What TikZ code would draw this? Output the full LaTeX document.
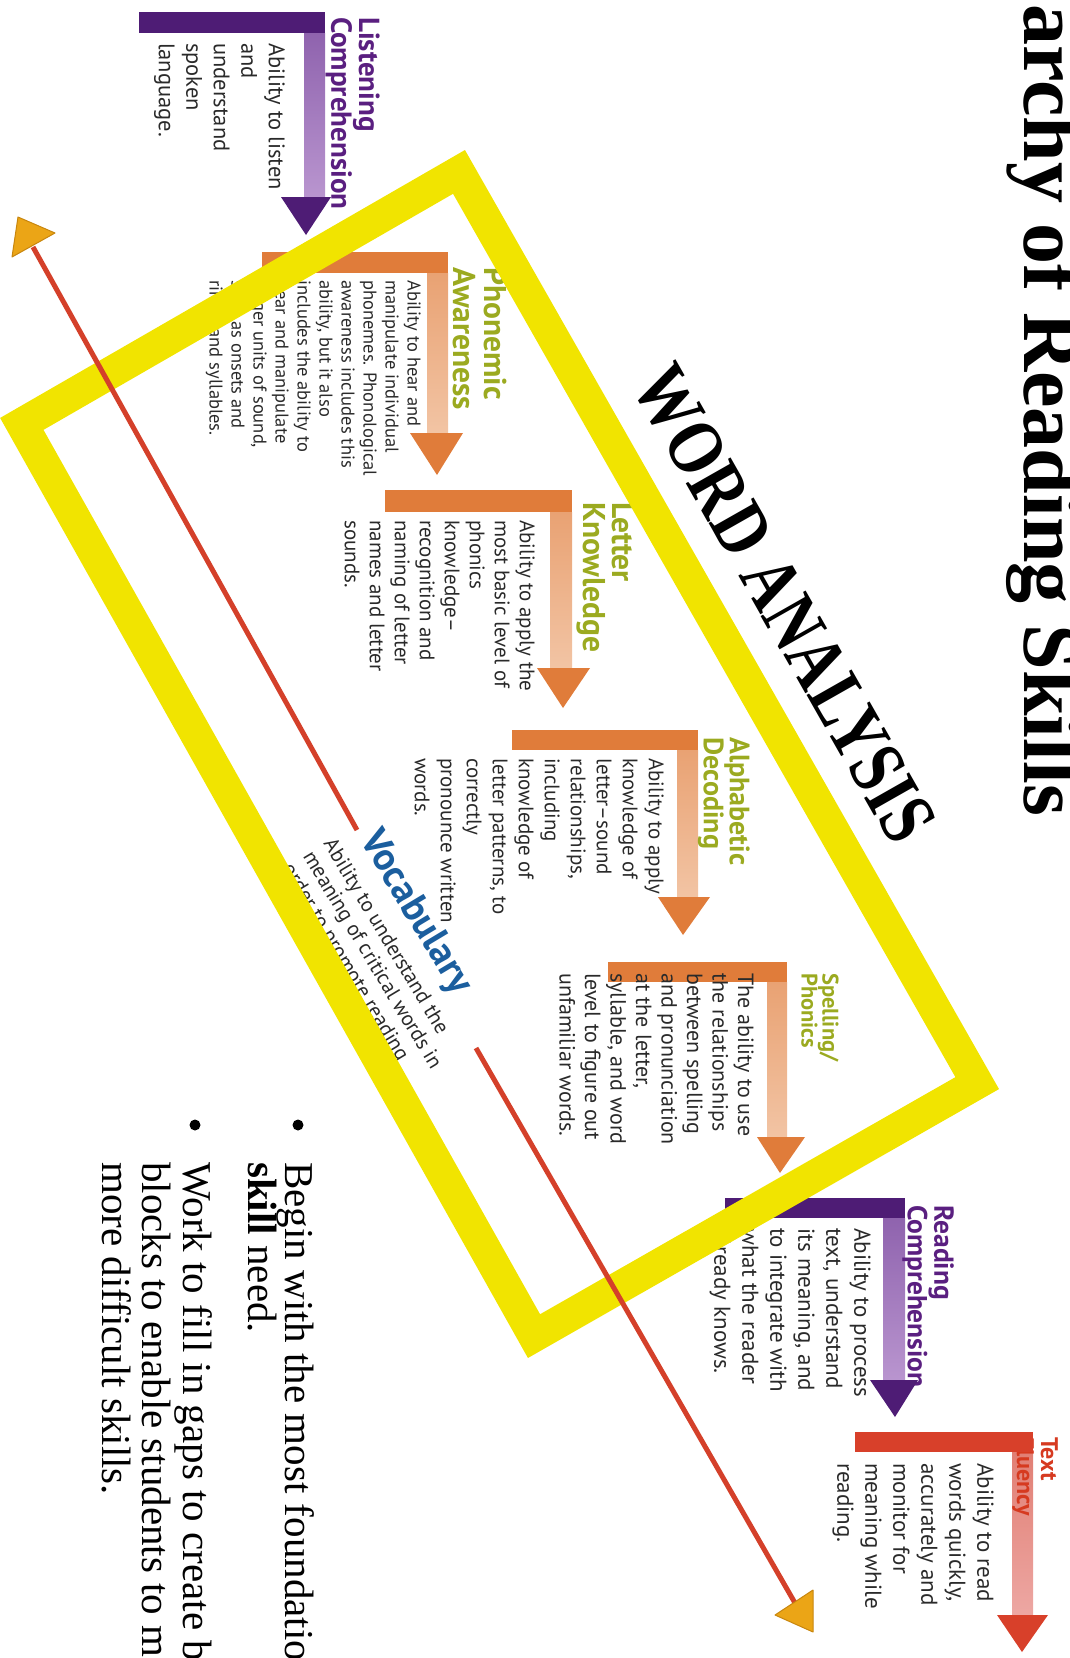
\documentclass[tikz,border=0pt]{standalone}
\usepackage{fontspec}
\setmainfont{PT Sans}
\newfontfamily\bodyf{PT Sans}
\newfontfamily\serf{Liberation Serif}
\newfontfamily\waf[FakeStretch=0.80]{Liberation Serif}
\newcommand\bfs[2]{\bodyf\fontsize{#1}{#2}\selectfont}
\newcommand\hfs[2]{\bodyf\bfseries\fontsize{#1}{#2}\selectfont}
\definecolor{purpD}{HTML}{4E1C75}
\definecolor{purpLt}{HTML}{8F63AE}
\definecolor{purpLb}{HTML}{B995CF}
\definecolor{orgD}{HTML}{E07C3A}
\definecolor{orgLt}{HTML}{E9A273}
\definecolor{orgLb}{HTML}{F2C4A4}
\definecolor{redD}{HTML}{D8402A}
\definecolor{redLt}{HTML}{E17F74}
\definecolor{redLb}{HTML}{EDA7A3}
\definecolor{hgreen}{HTML}{9BAA20}
\definecolor{hpurple}{HTML}{5A1F80}
\definecolor{hred}{HTML}{D63A20}
\definecolor{vocblue}{HTML}{1B5E9E}
\definecolor{bodygray}{HTML}{2A2A2A}
\definecolor{yband}{HTML}{F1E400}
\definecolor{redline}{HTML}{D4402A}
\definecolor{gold}{HTML}{EBA516}
\definecolor{golddark}{HTML}{C8860E}
\begin{document}
\begin{tikzpicture}[x=1pt,y=-1pt,
  body/.style={rotate=-90, anchor=north west, inner sep=0pt, align=left, text=bodygray},
  hdr/.style={rotate=-90, anchor=north west, inner sep=0pt, align=left},
  bul/.style={rotate=-90, anchor=base west, inner sep=0pt, text=black, font=\serf\fontsize{41}{41}\selectfont},
  redln/.style={draw=redline, line width=5pt},
  goldhead/.style={fill=gold, draw=golddark, line width=1pt, line join=round},
  band/.style={draw=yband, line width=32pt, line join=miter}]
\useasboundingbox (0,0) rectangle (1070,1658);
\clip (0,0) rectangle (1070,1658);

% ---------- Listening Comprehension ----------
\shade[top color=purpLt, bottom color=purpLb] (304,33) rectangle (325,197);
\node[hdr, text=hpurple, font=\hfs{29}{24}] (lchdr) at (380,17) {Listening\\Comprehension};
\fill[purpD] (139,12) rectangle (325,33);
\fill[purpD] (281,197) -- (331,197) -- (306,235) -- cycle;
\node[body, font=\bfs{22.5}{27.5}] (lcbody) at (285,43) {Ability to listen\\and\\understand\\spoken\\language.};

% ---------- Phonemic Awareness ----------
\shade[top color=orgLt, bottom color=orgLb] (427,273) rectangle (448,433);
\node[hdr, text=hgreen, font=\hfs{31.5}{31}] (pahdr) at (507,267) {Phonemic\\Awareness};
\fill[orgD] (262,252) rectangle (448,273);
\fill[orgD] (410,433) -- (463,433) -- (437,475) -- cycle;
\node[body, font=\bfs{18.5}{22}] (pabody) at (421,280) {Ability to hear and\\manipulate individual\\phonemes. Phonological\\awareness includes this\\ability, but it also\\includes the ability to\\hear and manipulate\\larger units of sound,\\such as onsets and\\rimes and syllables.};

% ---------- Letter Knowledge ----------
\shade[top color=orgLt, bottom color=orgLb] (550,512) rectangle (572,668);
\node[hdr, text=hgreen, font=\hfs{31.5}{29}] (lkhdr) at (635,502) {Letter\\Knowledge};
\fill[orgD] (385,490) rectangle (572,512);
\fill[orgD] (537,668) -- (590,668) -- (563,708) -- cycle;
\node[body, font=\bfs{21}{25}] (lkbody) at (535,520) {Ability to apply the\\most basic level of\\phonics\\knowledge–\\recognition and\\naming of letter\\names and letter\\sounds.};

% ---------- Alphabetic Decoding ----------
\shade[top color=orgLt, bottom color=orgLb] (677,750) rectangle (698,897);
\node[hdr, text=hgreen, font=\hfs{28}{26}] (adhdr) at (750,737) {Alphabetic\\Decoding};
\fill[orgD] (512,730) rectangle (698,750);
\fill[orgD] (658,897) -- (710,897) -- (683,935) -- cycle;
\node[body, font=\bfs{21}{26}] (adbody) at (664,758) {Ability to apply\\knowledge of\\letter–sound\\relationships,\\including\\knowledge of\\letter patterns, to\\correctly\\pronounce written\\words.};

% ---------- Spelling/Phonics ----------
\shade[top color=orgLt, bottom color=orgLb] (767,982) rectangle (787,1137);
\node[hdr, text=hgreen, font=\hfs{22.5}{21}] (sphdr) at (839,973) {Spelling/\\Phonics};
\fill[orgD] (608,962) rectangle (787,982);
\fill[orgD] (757,1137) -- (805,1137) -- (780,1173) -- cycle;
\node[body, font=\bfs{22}{25.5}] (spbody) at (754,973) {The ability to use\\the relationships\\between spelling\\and pronunciation\\at the letter,\\syllable, and word\\level to figure out\\unfamiliar words.};

% ---------- Reading Comprehension ----------
\shade[top color=purpLt, bottom color=purpLb] (883,1218) rectangle (905,1380);
\node[hdr, text=hpurple, font=\hfs{27.5}{25}] (rchdr) at (954,1205) {Reading\\Comprehension};
\fill[purpD] (725,1198) rectangle (905,1218);
\fill[purpD] (870,1380) -- (918,1380) -- (895,1417) -- cycle;
\node[body, font=\bfs{23}{28}] (rcbody) at (871,1228) {Ability to process\\text, understand\\its meaning, and\\to integrate with\\what the reader\\already knows.};

% ---------- Text Fluency ----------
\shade[top color=redLt, bottom color=redLb] (1012,1452) rectangle (1033,1615);
\node[hdr, text=hred, font=\hfs{24}{24}] (tfhdr) at (1058,1437) {Text\\Fluency};
\fill[redD] (855,1432) rectangle (1033,1452);
\fill[redD] (997,1615) -- (1048,1615) -- (1022,1652) -- cycle;
\node[body, font=\bfs{23}{28}] (tfbody) at (994,1463) {Ability to read\\words quickly,\\accurately and\\monitor for\\meaning while\\reading.};

% ---------- Vocabulary ----------
\node[rotate=-59, anchor=north west, inner sep=0pt, text=vocblue, font=\hfs{39}{39}] (vochdr) at (383,825) {Vocabulary};
\node[rotate=-59, anchor=north west, inner sep=0pt, align=left, text=bodygray, font=\bfs{21}{24}] (vocbody) at (336,836) {Ability to understand the\\meaning of critical words in\\order to promote reading};

% ---------- Yellow frame ----------
\draw[band] (459.0,171.9) -- (977.2,1083.1) -- (534.0,1336.1) -- (21.8,423.9) -- cycle;

% ---------- Red double arrow ----------
\coordinate (rA) at (33,247);
\coordinate (rB) at (357,830);
\coordinate (rC) at (476,1048);
\coordinate (rD) at (795,1603);
\draw[redln] (rA) -- (rB);
\draw[redln] (rC) -- (rD);
\filldraw[goldhead] (18,217) -- (55,233) -- (12,257) -- cycle;
\filldraw[goldhead] (775,1615) -- (813,1590) -- (813,1632) -- cycle;

% ---------- WORD ANALYSIS ----------
\node[rotate=-60.4, inner sep=0pt, font=\waf\bfseries\fontsize{79}{79}\selectfont] (wa) at (784,604) {WORD ANALYSIS};

% ---------- Title ----------
\node[rotate=-90, anchor=base west, inner sep=0pt, font=\serf\bfseries\fontsize{82}{82}\selectfont] (title) at (1024,4) {archy of Reading Skills};

% ---------- Bullets ----------
\fill (298,1125) circle (5.5);
\fill (195,1125) circle (5.5);
\node[bul] (b1a) at (285,1162) {Begin with the most foundatio};
\node[bul] (b1b) at (248,1162) {\textbf{skill} need.};
\node[bul] (b2a) at (183,1162) {Work to fill in gaps to create b};
\node[bul] (b2b) at (142,1162) {blocks to enable students to m};
\node[bul] (b2c) at (102,1162) {more difficult skills.};
\end{tikzpicture}
\end{document}
